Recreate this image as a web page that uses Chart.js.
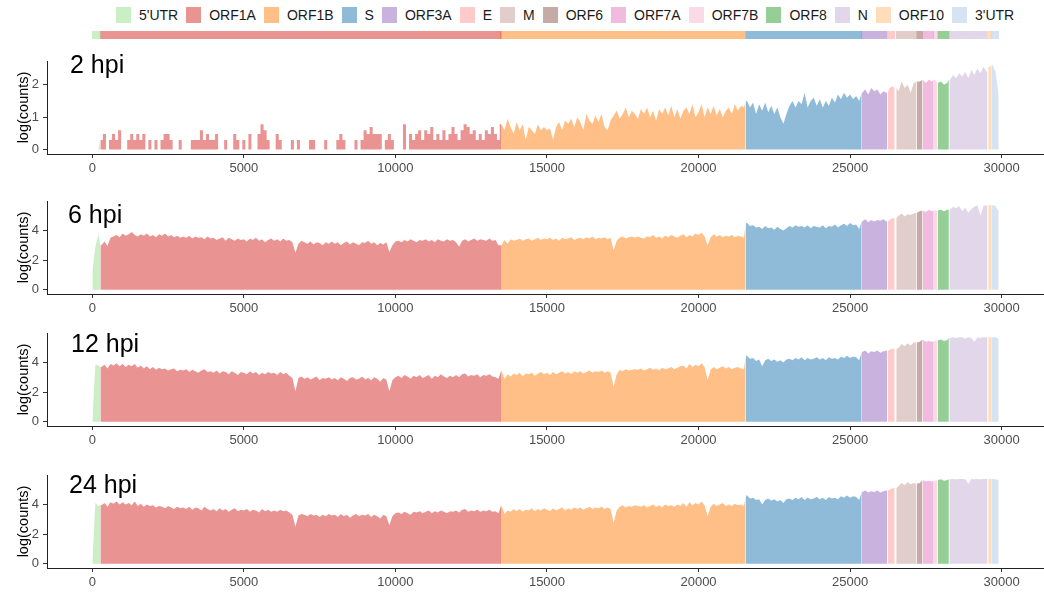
<!DOCTYPE html>
<html>
<head>
<meta charset="UTF-8" />
<title>log(counts) along the genome</title>
<script src="https://cdn.jsdelivr.net/npm/chart.js"></script>
<style>
  body { margin: 0; background: #fff; font-family: "Liberation Sans", Arial, sans-serif; }
  #page { position: relative; width: 1044px; height: 596px; overflow: hidden; }
  .legend { position: absolute; left: 116px; top: 7px; display: flex; align-items: center; gap: 8px; font-size: 14px; color: #1a1a1a; }
  .legend .item { display: flex; align-items: center; gap: 8px; height: 16px; }
  .legend .key { width: 15px; height: 16px; }
  .box { position: absolute; left: 0; width: 1044px; }
  .tag { position: absolute; font-size: 25px; line-height: 25px; color: #000; white-space: nowrap; }
</style>
</head>
<body>
<div id="page">
  <div class="legend" id="legend"></div>
  <div class="box" style="top:31px;height:8px"><canvas id="strip"></canvas></div>
  <div class="box" style="top:49px;height:131px"><canvas id="p0"></canvas></div>
  <div class="box" style="top:189px;height:131px"><canvas id="p1"></canvas></div>
  <div class="box" style="top:321px;height:131px"><canvas id="p2"></canvas></div>
  <div class="box" style="top:463px;height:131px"><canvas id="p3"></canvas></div>
  <div class="tag" style="left:70px;top:52px">2 hpi</div>
  <div class="tag" style="left:68px;top:202px">6 hpi</div>
  <div class="tag" style="left:71px;top:331px">12 hpi</div>
  <div class="tag" style="left:69px;top:472px">24 hpi</div>
</div>
<script>
// genome regions (nt)
const regionNames = ["5'UTR", 'ORF1A', 'ORF1B', 'S', 'ORF3A', 'E', 'M', 'ORF6', 'ORF7A', 'ORF7B', 'ORF8', 'N', 'ORF10', "3'UTR"]
const regionStarts = [1, 266, 13468, 21563, 25393, 26245, 26523, 27202, 27394, 27756, 27894, 28274, 29558, 29675]
const regionEnds = [265, 13483, 21555, 25384, 26220, 26472, 27191, 27387, 27759, 27887, 28259, 29533, 29674, 29903]
const regionColors = [
  'rgba(152,223,138,0.5)', 'rgba(214,39,40,0.5)', 'rgba(255,127,14,0.5)', 'rgba(31,119,180,0.5)',
  'rgba(148,103,189,0.5)', 'rgba(255,152,150,0.5)', 'rgba(196,156,148,0.5)', 'rgba(140,86,75,0.5)',
  'rgba(227,119,194,0.5)', 'rgba(247,182,210,0.5)', 'rgba(44,160,44,0.5)', 'rgba(197,176,213,0.5)',
  'rgba(255,187,120,0.5)', 'rgba(174,199,232,0.5)'
]

const binSize = 100 // one value per 100 nt, starting at 0
const xTicks = [0, 5000, 10000, 15000, 20000, 25000, 30000]
const yTicksLow = [0, 1, 2]
const yTicksHigh = [0, 2, 4]

// log(counts), 2 hpi
const hpi2 = [
  0, 0, 0, 0.3, 0.48, 0, 0.3, 0.48, 0.3, 0.6,
  0, 0, 0.3, 0.48, 0.3, 0.48, 0.3, 0.48, 0, 0.3,
  0, 0.3, 0, 0.3, 0.48, 0.48, 0.3, 0, 0, 0.3,
  0, 0, 0, 0.3, 0.3, 0.3, 0.6, 0.3, 0.48, 0.3,
  0.3, 0.48, 0, 0, 0.3, 0, 0, 0.48, 0.3, 0,
  0.3, 0, 0.48, 0, 0, 0.48, 0.78, 0.6, 0.3, 0,
  0, 0.48, 0.3, 0, 0, 0, 0.3, 0, 0.3, 0,
  0, 0, 0.3, 0.3, 0, 0, 0, 0.3, 0, 0,
  0, 0.3, 0.48, 0.3, 0, 0, 0, 0.3, 0, 0.3,
  0.6, 0.48, 0.7, 0.48, 0.48, 0.48, 0, 0.3, 0.48, 0.3,
  0, 0, 0, 0.78, 0, 0.48, 0.3, 0.48, 0.6, 0.3,
  0.6, 0.48, 0.7, 0.3, 0.48, 0.3, 0.6, 0.3, 0.48, 0.7,
  0.48, 0.3, 0.6, 0.78, 0.7, 0.48, 0.6, 0.3, 0.48, 0.3,
  0.6, 0.48, 0.7, 0.48, 0.3, 0.78, 0.6, 0.95, 0.7, 0.48,
  0.85, 0.6, 0.78, 0.3, 0.7, 0.6, 0.48, 0.78, 0.6, 0.7,
  0.6, 0.65, 0.3, 0.7, 0.85, 0.6, 0.9, 0.8, 0.95, 0.7,
  1.0, 0.85, 0.6, 1.1, 0.9, 0.8, 1.05, 0.85, 1.1, 0.7,
  0.6, 0.9, 1.05, 1.2, 0.95, 1.1, 1.3, 1.0, 1.2, 1.1,
  0.95, 1.25, 1.1, 1.3, 1.0, 1.2, 0.9, 1.25, 1.1, 1.3,
  1.05, 1.35, 1.0, 1.25, 0.95, 1.2, 1.3, 1.1, 1.4, 1.0,
  1.15, 1.4, 1.0, 1.3, 1.1, 1.35, 1.05, 1.25, 1.0, 1.2,
  1.3, 1.1, 1.4, 1.2, 1.35, 1.3, 1.5, 1.3, 1.45, 1.1,
  1.4, 1.2, 1.45, 1.15, 1.35, 1.1, 1.3, 1.0, 0.8, 1.1,
  1.35, 1.5, 1.3, 1.5, 1.4, 1.75, 1.3, 1.5, 1.6, 1.35,
  1.55, 1.3, 1.5, 1.35, 1.6, 1.45, 1.7, 1.55, 1.75, 1.6,
  1.7, 1.55, 1.65, 1.5, 1.75, 1.85, 1.7, 1.9, 1.8, 1.85,
  1.7, 1.8, 1.75, 1.9, 1.95, 1.9, 1.8, 2.1, 1.9, 2.0,
  1.75, 2.05, 2.1, 2.1, 2.15, 2.05, 2.15, 2.1, 2.15, 2.05,
  2.1, 2.0, 2.05, 2.15, 2.3, 2.2, 2.35, 2.25, 2.4, 2.2,
  2.45, 2.3, 2.5, 2.35, 2.55, 2.4, 2.55, 2.6, 2.4, 1.7
]

// log(counts), 6 hpi
const hpi6 = [
  1.3, 2.9, 3.75, 3.0, 3.25, 2.95, 3.5, 3.6, 3.7, 3.55,
  3.8, 3.65, 3.75, 3.9, 3.7, 3.6, 3.75, 3.65, 3.8, 3.6,
  3.7, 3.55, 3.75, 3.65, 3.8, 3.6, 3.7, 3.55, 3.65, 3.5,
  3.6, 3.5, 3.65, 3.45, 3.6, 3.5, 3.55, 3.4, 3.6, 3.45,
  3.5, 3.35, 3.45, 3.55, 3.3, 3.5, 3.4, 3.3, 3.45, 3.35,
  3.4, 3.25, 3.45, 3.35, 3.5, 3.3, 3.4, 3.2, 3.35, 3.45,
  3.3, 3.4, 3.25, 3.45, 3.3, 3.35, 3.2, 2.5, 3.1, 3.3,
  3.2, 3.1, 3.25, 3.05, 3.2, 3.15, 3.0, 3.2, 3.1, 3.25,
  3.1, 3.2, 3.0, 3.15, 3.25, 3.05, 3.2, 3.1, 3.0, 3.2,
  3.15, 3.3, 3.1, 3.2, 3.0, 3.15, 3.05, 3.2, 2.55, 3.0,
  3.25, 3.3, 3.2, 3.35, 3.25, 3.4, 3.3, 3.2, 3.35, 3.3,
  3.4, 3.25, 3.35, 3.2, 3.4, 3.3, 3.25, 3.4, 3.3, 3.35,
  3.2, 2.9, 3.3, 3.4, 3.25, 3.35, 3.45, 3.3, 3.4, 3.35,
  3.3, 3.45, 3.3, 3.35, 3.0, 3.0, 3.35, 3.1, 3.4, 3.3,
  3.35, 3.45, 3.3, 3.4, 3.45, 3.3, 3.4, 3.5, 3.35, 3.45,
  3.4, 3.5, 3.35, 3.45, 3.3, 3.5, 3.4, 3.45, 3.55, 3.35,
  3.45, 3.5, 3.4, 3.55, 3.45, 3.6, 3.4, 3.5, 3.45, 3.55,
  3.4, 3.5, 2.65, 3.3, 3.5, 3.6, 3.45, 3.55, 3.6, 3.5,
  3.6, 3.5, 3.45, 3.6, 3.55, 3.7, 3.5, 3.6, 3.45, 3.65,
  3.55, 3.7, 3.6, 3.5, 3.65, 3.75, 3.55, 3.7, 3.6, 3.8,
  3.7, 3.85, 3.6, 3.0, 3.55, 3.75, 3.6, 3.7, 3.55, 3.65,
  3.6, 3.7, 3.55, 3.65, 3.6, 3.5, 4.5, 4.3, 4.35, 4.2,
  4.25, 4.1, 4.3, 4.15, 4.2, 4.05, 4.25, 4.1, 4.0, 4.15,
  4.3, 4.2, 4.35, 4.25, 4.3, 4.2, 4.35, 4.15, 4.3, 4.25,
  4.2, 4.35, 4.15, 4.3, 4.25, 4.4, 4.2, 4.35, 4.45, 4.3,
  4.5, 4.35, 4.4, 4.1, 4.6, 4.75, 4.55, 4.7, 4.6, 4.7,
  4.65, 4.75, 4.6, 4.7, 4.85, 4.8, 5.0, 5.15, 4.95, 5.1,
  5.05, 5.15, 5.2, 5.3, 5.35, 5.25, 5.4, 5.3, 5.35, 5.35,
  5.4, 5.3, 5.4, 5.4, 5.6, 5.5, 5.65, 5.3, 5.55, 5.2,
  5.45, 5.6, 5.7, 5.0, 5.65, 5.7, 5.7, 5.7, 5.65, 5.3
]

// log(counts), 12 hpi
const hpi12 = [
  0.1, 3.85, 3.8, 3.7, 3.85, 3.6, 3.9, 3.8, 3.95, 3.75,
  3.9, 3.7, 3.85, 3.75, 3.9, 3.65, 3.8, 3.6, 3.75, 3.55,
  3.7, 3.5, 3.65, 3.55, 3.6, 3.45, 3.55, 3.6, 3.4, 3.5,
  3.45, 3.55, 3.35, 3.5, 3.4, 3.3, 3.45, 3.55, 3.35, 3.4,
  3.3, 3.45, 3.25, 3.4, 3.35, 3.2, 3.4, 3.3, 3.15, 3.35,
  3.3, 3.2, 3.4, 3.25, 3.35, 3.15, 3.3, 3.2, 3.35, 3.25,
  3.3, 3.15, 3.35, 3.2, 3.3, 3.1, 2.95, 2.05, 2.95, 3.05,
  2.9, 3.0, 2.85, 2.95, 3.05, 2.8, 2.95, 2.9, 3.0, 2.85,
  2.95, 2.8, 3.0, 2.9, 2.75, 2.95, 3.0, 2.85, 2.9, 3.05,
  2.85, 2.95, 2.8, 3.0, 2.9, 2.7, 2.95, 2.85, 2.05, 2.8,
  3.0, 3.1, 2.95, 3.15, 3.05, 2.9, 3.1, 3.0, 3.15, 2.95,
  3.05, 3.15, 2.9, 3.1, 3.0, 3.2, 3.05, 2.95, 3.1, 3.0,
  3.15, 3.0, 3.2, 3.25, 3.05, 3.15, 3.1, 3.2, 3.0, 3.15,
  3.1, 3.2, 3.05, 3.0, 2.9, 3.4, 2.9, 3.2, 3.05, 3.25,
  3.15, 3.3, 3.05, 3.25, 3.2, 3.3, 3.1, 3.25, 3.35, 3.2,
  3.3, 3.15, 3.35, 3.2, 3.3, 3.4, 3.25, 3.35, 3.2, 3.4,
  3.3, 3.4, 3.25, 3.35, 3.45, 3.3, 3.4, 3.35, 3.45, 3.3,
  3.4, 3.3, 2.35, 3.2, 3.5, 3.4, 3.55, 3.45, 3.5, 3.55,
  3.5, 3.6, 3.45, 3.55, 3.65, 3.5, 3.6, 3.45, 3.65, 3.55,
  3.6, 3.7, 3.55, 3.65, 3.75, 3.8, 3.6, 3.9, 3.7, 3.85,
  3.75, 3.95, 3.7, 2.8, 3.5, 3.7, 3.55, 3.65, 3.75, 3.6,
  3.7, 3.55, 3.65, 3.7, 3.6, 3.55, 4.45, 4.25, 4.3, 4.1,
  4.2, 3.75, 4.15, 4.25, 4.1, 4.2, 4.05, 4.15, 4.0, 4.2,
  4.25, 4.15, 4.3, 4.2, 4.35, 4.15, 4.3, 4.2, 4.25, 4.35,
  4.2, 4.3, 4.15, 4.35, 4.25, 4.3, 4.2, 4.4, 4.3, 4.45,
  4.3, 4.4, 4.35, 4.15, 4.7, 4.8, 4.6, 4.75, 4.7, 4.8,
  4.65, 4.75, 4.8, 4.85, 4.95, 4.9, 5.0, 5.25, 5.1, 5.3,
  5.15, 5.35, 5.35, 5.4, 5.55, 5.4, 5.45, 5.4, 5.45, 5.5,
  5.55, 5.45, 5.5, 5.65, 5.7, 5.65, 5.7, 5.7, 5.6, 5.7,
  5.65, 5.4, 5.7, 5.65, 5.7, 5.7, 5.7, 5.7, 5.7, 5.6
]

// log(counts), 24 hpi
const hpi24 = [
  0.1, 4.1, 3.9, 3.95, 4.1, 3.85, 4.15, 4.05, 4.2, 4.0,
  4.15, 4.0, 4.1, 3.95, 4.2, 3.9, 4.05, 3.85, 4.0, 3.9,
  3.95, 3.8, 3.9, 3.85, 3.75, 3.9, 3.8, 3.7, 3.85, 3.75,
  3.8, 3.7, 3.85, 3.65, 3.8, 3.75, 3.6, 3.85, 3.7, 3.6,
  3.7, 3.55, 3.75, 3.6, 3.7, 3.5, 3.65, 3.75, 3.55, 3.65,
  3.6, 3.7, 3.5, 3.65, 3.6, 3.45, 3.7, 3.55, 3.65, 3.5,
  3.6, 3.5, 3.65, 3.55, 3.6, 3.45, 3.3, 2.5, 3.25, 3.35,
  3.3, 3.2, 3.35, 3.25, 3.3, 3.15, 3.3, 3.2, 3.35, 3.25,
  3.3, 3.15, 3.35, 3.2, 3.3, 3.1, 3.25, 3.35, 3.2, 3.3,
  3.25, 3.35, 3.15, 3.3, 3.2, 3.05, 3.3, 3.2, 2.6, 3.2,
  3.4, 3.45, 3.35, 3.5, 3.4, 3.3, 3.5, 3.45, 3.55, 3.4,
  3.5, 3.6, 3.4, 3.55, 3.45, 3.6, 3.5, 3.4, 3.55, 3.5,
  3.6, 3.45, 3.65, 3.7, 3.5, 3.6, 3.55, 3.65, 3.5, 3.6,
  3.55, 3.65, 3.5, 3.55, 3.4, 3.9, 3.35, 3.6, 3.5, 3.7,
  3.55, 3.7, 3.5, 3.65, 3.6, 3.75, 3.55, 3.7, 3.6, 3.75,
  3.65, 3.55, 3.75, 3.6, 3.7, 3.8, 3.6, 3.75, 3.65, 3.8,
  3.7, 3.8, 3.65, 3.75, 3.85, 3.7, 3.8, 3.75, 3.85, 3.7,
  3.8, 3.7, 2.75, 3.6, 3.85, 3.95, 3.8, 3.9, 3.85, 3.95,
  3.9, 3.85, 3.95, 3.8, 3.9, 4.0, 3.85, 3.95, 3.8, 4.0,
  3.9, 3.95, 3.85, 4.0, 3.9, 4.1, 3.85, 4.15, 3.95, 4.1,
  4.0, 4.2, 3.95, 3.2, 3.85, 4.05, 3.9, 4.0, 4.1, 3.9,
  4.0, 3.9, 4.05, 3.95, 4.0, 3.9, 4.6, 4.4, 4.45, 4.3,
  4.35, 4.0, 4.3, 4.4, 4.25, 4.35, 4.2, 4.3, 4.1, 4.35,
  4.4, 4.3, 4.45, 4.35, 4.5, 4.3, 4.45, 4.35, 4.4, 4.5,
  4.35, 4.45, 4.3, 4.5, 4.4, 4.45, 4.35, 4.55, 4.45, 4.6,
  4.45, 4.55, 4.5, 4.3, 4.85, 4.95, 4.8, 4.9, 4.85, 4.95,
  4.8, 4.9, 4.95, 5.0, 5.1, 5.1, 5.25, 5.45, 5.3, 5.5,
  5.35, 5.45, 5.4, 5.45, 5.65, 5.55, 5.6, 5.55, 5.6, 5.65,
  5.7, 5.6, 5.65, 5.7, 5.72, 5.7, 5.72, 5.72, 5.7, 5.4,
  5.72, 5.7, 5.72, 5.7, 5.72, 5.72, 5.72, 5.72, 5.7, 5.65
]

const xMin = -1495
const xMax = 31398

// legend row
const legendEl = document.getElementById('legend')
regionNames.forEach((name, r) => {
  const item = document.createElement('div')
  item.className = 'item'
  item.innerHTML = '<span class="key" style="background:' + regionColors[r] + '"></span><span>' + name + '</span>'
  legendEl.appendChild(item)
})

// points of one region: edges take the nearest bin value
function regionPoints(values, r) {
  const s = regionStarts[r]
  const e = regionEnds[r]
  const near = pos => values[Math.min(Math.round(pos / binSize), values.length - 1)]
  const pts = [{ x: s, y: near(s) }]
  values.forEach((v, i) => {
    const x = i * binSize
    if (x > s && x < e) pts.push({ x, y: v })
  })
  pts.push({ x: e, y: near(e) })
  return pts
}

// genome strip under the legend
new Chart(document.getElementById('strip'), {
  type: 'bar',
  data: {
    labels: ['genome'],
    datasets: regionNames.map((name, r) => ({
      label: name,
      data: [[regionStarts[r], regionEnds[r]]],
      backgroundColor: regionColors[r],
      borderWidth: 0,
      barPercentage: 1,
      categoryPercentage: 1,
      grouped: false
    }))
  },
  options: {
    indexAxis: 'y',
    responsive: true,
    maintainAspectRatio: false,
    animation: false,
    layout: { padding: { left: 47, right: 0, top: 0, bottom: 0 } },
    plugins: { legend: { display: false }, tooltip: { enabled: false } },
    scales: {
      x: { type: 'linear', min: xMin, max: xMax, display: false },
      y: { display: false }
    }
  }
})

// steppedRegions: regions drawn as blocks (sparse reads at 2 hpi)
function drawPanel(id, values, yMin, yMax, yTicks, steppedRegions) {
  const datasets = regionNames.map((name, r) => ({
    label: name,
    data: regionPoints(values, r),
    backgroundColor: regionColors[r],
    borderColor: 'rgba(0,0,0,0)',
    borderWidth: 0,
    pointRadius: 0,
    fill: 'origin',
    tension: 0,
    stepped: steppedRegions.includes(name) ? 'middle' : false
  }))

  new Chart(document.getElementById(id), {
    type: 'line',
    data: { datasets },
    options: {
      responsive: true,
      maintainAspectRatio: false,
      animation: false,
      layout: { padding: { top: 12, left: 0, right: 0, bottom: 0 } },
      plugins: { legend: { display: false }, tooltip: { enabled: false } },
      scales: {
        x: {
          type: 'linear',
          min: xMin,
          max: xMax,
          afterBuildTicks: s => { s.ticks = xTicks.map(v => ({ value: v })) },
          afterFit: s => { s.height = 26 },
          grid: { drawOnChartArea: false, drawTicks: true, tickLength: 4, color: '#333' },
          border: { display: true, color: '#222', width: 1 },
          ticks: { color: '#4d4d4d', padding: 3, maxRotation: 0, font: { family: 'Liberation Sans', size: 13 }, callback: v => String(v) }
        },
        y: {
          min: yMin,
          max: yMax,
          afterBuildTicks: s => { s.ticks = yTicks.map(v => ({ value: v })) },
          afterFit: s => { s.width = 47 },
          grid: { drawOnChartArea: false, drawTicks: true, tickLength: 4, color: '#333' },
          border: { display: true, color: '#222', width: 1 },
          ticks: { color: '#4d4d4d', padding: 4, font: { family: 'Liberation Sans', size: 13 }, callback: v => String(v) },
          title: { display: true, text: 'log(counts)', color: '#000', padding: { top: 15, bottom: 0 }, font: { family: 'Liberation Sans', size: 14.5 } }
        }
      }
    }
  })
}

drawPanel('p0', hpi2, -0.135, 2.73, yTicksLow, ['ORF1A'])
drawPanel('p1', hpi6, -0.29, 5.99, yTicksHigh, [])
drawPanel('p2', hpi12, -0.29, 5.99, yTicksHigh, [])
drawPanel('p3', hpi24, -0.29, 5.99, yTicksHigh, [])
</script>
</body>
</html>
